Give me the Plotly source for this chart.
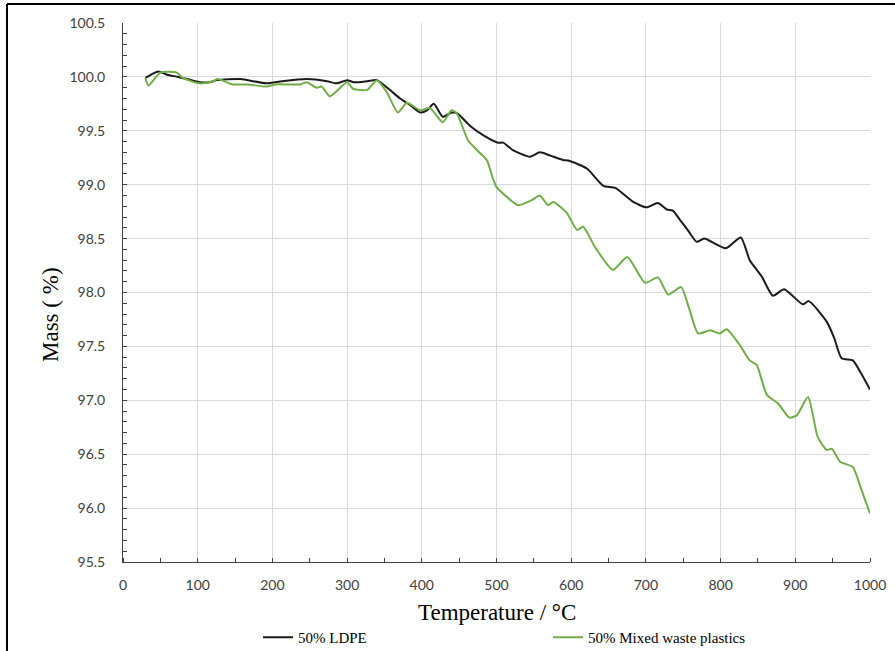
import plotly.graph_objects as go

# Temperature (°C) and mass (%)
ldpe_temp = [30, 40, 47, 59, 74, 86, 103, 116, 126, 157, 192, 213, 246, 273, 286, 300, 309, 327, 340,
             357, 371, 384, 398, 407, 416, 428, 440, 448, 464, 482, 502, 509, 522, 545, 558, 572, 589,
             598, 621, 643, 659, 683, 701, 716, 728, 736, 746, 757, 768, 778, 807, 827, 839, 855, 870,
             885, 910, 918, 942, 952, 962, 977, 988, 1000]
ldpe_mass = [99.99, 100.03, 100.05, 100.02, 100.0, 99.98, 99.95, 99.95, 99.97, 99.98, 99.94, 99.96,
             99.98, 99.96, 99.94, 99.97, 99.95, 99.96, 99.97, 99.88, 99.80, 99.74, 99.67, 99.69, 99.75,
             99.63, 99.67, 99.66, 99.55, 99.46, 99.39, 99.39, 99.32, 99.26, 99.30, 99.27, 99.23, 99.22,
             99.15, 98.99, 98.97, 98.84, 98.79, 98.83, 98.77, 98.76, 98.67, 98.57, 98.47, 98.50, 98.41,
             98.51, 98.30, 98.15, 97.97, 98.03, 97.89, 97.92, 97.73, 97.58, 97.39, 97.37, 97.25, 97.10]

mix_temp = [30, 34, 50, 72, 80, 103, 120, 127, 147, 167, 192, 204, 237, 246, 259, 266, 277, 300, 308,
            327, 340, 353, 368, 380, 398, 411, 428, 440, 447, 462, 474, 487, 495, 500, 515, 529, 548,
            558, 569, 576, 594, 608, 616, 632, 656, 675, 699, 716, 730, 747, 758, 770, 786, 799, 808,
            825, 839, 848, 862, 877, 892, 902, 917, 930, 942, 949, 960, 977, 988, 1000]
mix_mass = [99.99, 99.92, 100.04, 100.04, 99.99, 99.94, 99.96, 99.98, 99.93, 99.93, 99.91, 99.93,
            99.93, 99.95, 99.90, 99.91, 99.82, 99.95, 99.89, 99.88, 99.97, 99.86, 99.67, 99.76, 99.69,
            99.71, 99.58, 99.69, 99.66, 99.41, 99.32, 99.23, 99.06, 98.98, 98.88, 98.81, 98.86, 98.90,
            98.81, 98.84, 98.74, 98.58, 98.61, 98.42, 98.21, 98.33, 98.09, 98.14, 97.98, 98.05, 97.85,
            97.62, 97.65, 97.62, 97.66, 97.52, 97.37, 97.33, 97.05, 96.97, 96.84, 96.86, 97.03, 96.66,
            96.54, 96.55, 96.43, 96.38, 96.18, 95.95]

x_ticks = list(range(0, 1001, 100))
y_ticks = [95.5, 96.0, 96.5, 97.0, 97.5, 98.0, 98.5, 99.0, 99.5, 100.0, 100.5]

W, H = 895, 651
L, R, T, B = 123, 25, 23, 89
pw, ph = W - L - R, H - T - B

fig = go.Figure()
fig.add_trace(go.Scatter(x=ldpe_temp, y=ldpe_mass, mode="lines", name="50% LDPE",
                         line=dict(color="#1a1a1a", width=2, shape="spline", smoothing=0.6)))
fig.add_trace(go.Scatter(x=mix_temp, y=mix_mass, mode="lines", name="50% Mixed waste plastics",
                         line=dict(color="#70ad47", width=2, shape="spline", smoothing=0.6)))

tickfont = dict(family="Lato, 'Open Sans', sans-serif", size=14, color="#404040")
serif = "'Liberation Serif', 'Times New Roman', serif"

fig.update_xaxes(range=[0, 1000], tickvals=x_ticks, ticktext=[str(v) for v in x_ticks],
                 showgrid=True, gridcolor="#d9d9d9", gridwidth=1,
                 showline=True, linecolor="#404040", linewidth=1, zeroline=False,
                 ticks="", tickfont=tickfont, ticklabelstandoff=10,
                 minor=dict(dtick=50, ticks="inside", ticklen=4, tickcolor="#404040", showgrid=False))
fig.update_yaxes(range=[95.5, 100.5], tickvals=y_ticks, ticktext=[f"{v:.1f}" for v in y_ticks],
                 showgrid=True, gridcolor="#d9d9d9", gridwidth=1,
                 showline=True, linecolor="#404040", linewidth=1, zeroline=False,
                 ticks="inside", ticklen=4, tickcolor="#404040", tickfont=tickfont,
                 ticklabelstandoff=14,
                 minor=dict(dtick=0.1, ticks="inside", ticklen=4, tickcolor="#404040", showgrid=False))

px_x = lambda p: (p - L) / pw
px_y = lambda p: (H - B - p) / ph

fig.update_layout(
    width=W, height=H,
    margin=dict(l=L, r=R, t=T, b=B, autoexpand=False),
    paper_bgcolor="white", plot_bgcolor="white",
    showlegend=True,
    legend=dict(orientation="h", x=px_x(258), y=px_y(621), xanchor="left", yanchor="top",
                font=dict(family=serif, size=15, color="#000"),
                entrywidth=245, entrywidthmode="pixels", itemwidth=30,
                bgcolor="rgba(0,0,0,0)", tracegroupgap=0),
    annotations=[
        dict(text="Temperature / °C", xref="paper", yref="paper", x=px_x(497), y=px_y(612),
             xanchor="center", yanchor="middle", showarrow=False,
             font=dict(family=serif, size=23, color="#000")),
        dict(text="Mass ( %)", xref="paper", yref="paper", x=px_x(50), y=px_y(315),
             xanchor="center", yanchor="middle", showarrow=False, textangle=-90,
             font=dict(family=serif, size=23, color="#000")),
    ],
    shapes=[
        dict(type="line", xref="paper", yref="paper", x0=px_x(7), x1=px_x(900),
             y0=px_y(4), y1=px_y(4), line=dict(color="#000", width=2)),
        dict(type="line", xref="paper", yref="paper", x0=px_x(7), x1=px_x(7),
             y0=px_y(4), y1=px_y(660), line=dict(color="#000", width=2)),
    ],
)

fig.write_html("out.html")
